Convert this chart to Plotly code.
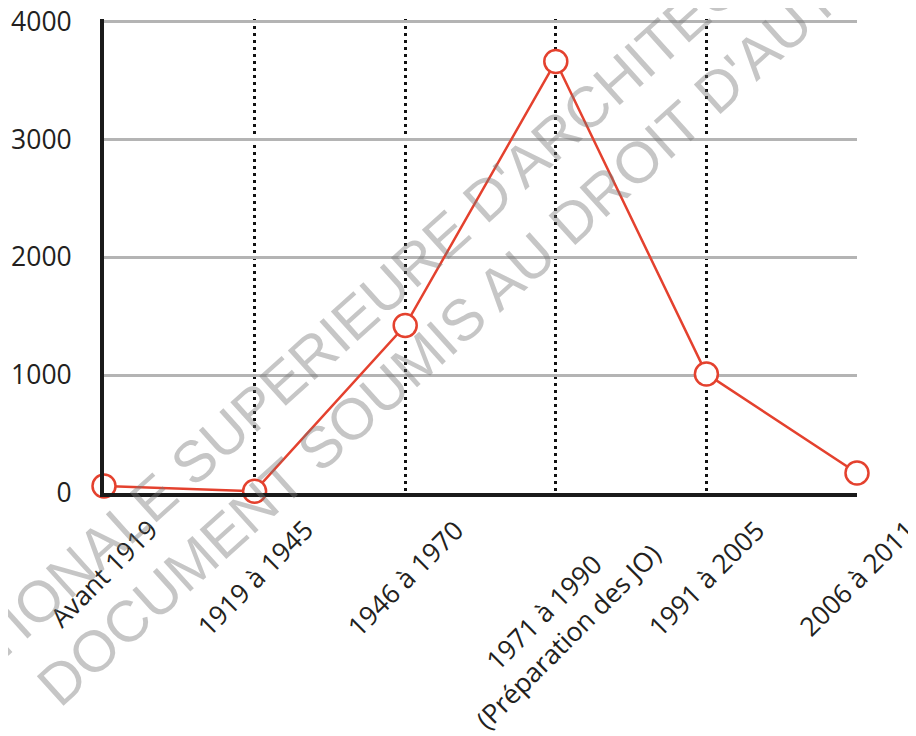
import plotly.graph_objects as go

# ---- data ----
categories = ["Avant 1919", "1919 à 1945", "1946 à 1970",
              "1971 à 1990<br>(Préparation des JO)", "1991 à 2005", "2006 à 2011"]
values = [60, 15, 1420, 3660, 1010, 170]
y_ticks = [0, 1000, 2000, 3000, 4000]
watermark_lines = ["ECOLE NATIONALE SUPERIEURE D'ARCHITECTURE",
                   "DOCUMENT SOUMIS AU DROIT D'AUTEUR"]

RED = "#e4412e"
TXT = "#231f20"
FONT = "Open Sans"

x_idx = list(range(len(categories)))

fig = go.Figure()
fig.add_trace(go.Scatter(
    x=x_idx, y=values, mode="lines+markers",
    line=dict(color=RED, width=2.5),
    marker=dict(size=23, color="white", line=dict(color=RED, width=2.5)),
    cliponaxis=False, hoverinfo="skip", showlegend=False,
))

annotations = []
for i, lab in enumerate(categories):
    annotations.append(dict(
        x=i, xref="x", y=-0.034, yref="paper",
        text=lab, textangle=-45, showarrow=False,
        xanchor="center", yanchor="top", align="center",
        font=dict(family=FONT, size=26.5, color=TXT),
    ))

wm_pos = [(0.272, 0.286), (0.503, 0.407)]
for txt, (px, py) in zip(watermark_lines, wm_pos):
    annotations.append(dict(
        x=px, y=py, xref="paper", yref="paper", text=txt,
        textangle=-42, showarrow=False, xanchor="center", yanchor="middle",
        font=dict(family="Liberation Sans", size=58, color="rgba(120,120,120,0.42)"),
    ))

fig.update_layout(
    width=916, height=736,
    margin=dict(l=96, r=67, t=10.6, b=251, autoexpand=False),
    paper_bgcolor="white", plot_bgcolor="white",
    annotations=annotations,
    xaxis=dict(
        range=[0, len(categories) - 1], tickvals=x_idx, showticklabels=False,
        showgrid=True, gridcolor="#111111", gridwidth=3, griddash="3px,4px",
        zeroline=False, showline=True, linecolor="#1a1a1a", linewidth=4,
        ticks="", fixedrange=True, automargin=False,
    ),
    yaxis=dict(
        range=[0, 4020], tickvals=y_ticks, ticktext=[str(v) for v in y_ticks],
        showgrid=True, gridcolor="#b4b4b4", gridwidth=3,
        zeroline=False, showline=True, linecolor="#1a1a1a", linewidth=4,
        ticks="", ticklabelstandoff=23, automargin=False,
        ticklabeloverflow="allow",
        tickfont=dict(family=FONT, size=26.5, color=TXT), fixedrange=True,
    ),
)

fig.write_html("out.html")
